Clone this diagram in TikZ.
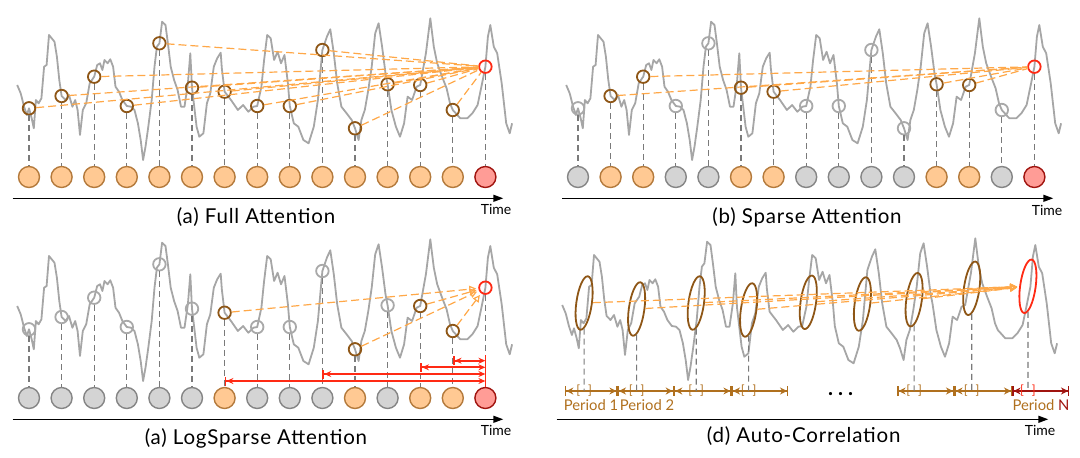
\documentclass[tikz,border=0pt]{standalone}
\usepackage{fontspec}
\setmainfont{Lato}
\usetikzlibrary{arrows.meta, positioning, shapes.geometric}

\definecolor{seriesgray}{HTML}{A6A6A6}
\definecolor{guidegray}{HTML}{7A7A7A}
\definecolor{keyofill}{HTML}{FFC993}
\definecolor{keyoedge}{HTML}{B47A3C}
\definecolor{keygfill}{HTML}{D4D4D4}
\definecolor{keygedge}{HTML}{858585}
\definecolor{keyrfill}{HTML}{FF9C96}
\definecolor{keyredge}{HTML}{A0140F}
\definecolor{ringo}{HTML}{8E5616}
\definecolor{ringg}{HTML}{A9A9A9}
\definecolor{ringr}{HTML}{FF2A14}
\definecolor{attorange}{HTML}{FFA848}
\definecolor{periodbrown}{HTML}{B0701E}
\definecolor{darkred}{HTML}{A0140F}

\newcommand{\timeseries}{%
  \draw[series] plot coordinates {
    (17.2,85) (20.7,93.3) (24.1,106.7) (26.9,115) (29,108.3) (31.7,118.3) (33.8,128.3)
    (35.9,100) (38.6,103.3) (41.4,98.3) (44.1,66.7) (46.6,65) (49,35) (51.7,38.3)
    (54.5,41.7) (56.9,56.7) (59.3,80) (61.6,96) (65.5,100) (69,95) (72.4,106.7)
    (75.2,100) (77.6,110) (80,135) (82.8,110) (86.2,103.3) (89.7,83.3) (94.2,76.7)
    (97.2,65) (100,63.3) (102.4,70) (104.5,60) (107.6,63.3) (110.3,59.3) (113.1,66.7)
    (115.5,86.7) (119,91.7) (122.4,100) (126.8,106) (131,106.7) (134.5,110)
    (137.9,123.3) (140.7,140) (143.1,160) (145.5,146.7) (148.3,126.7) (151.7,100)
    (154.5,66.7) (156.9,46.7) (159.4,43.3) (162.1,21.7) (165.5,25) (167.9,43.3)
    (170.7,66.7) (174.1,80) (177.6,90) (181,106.7) (184.5,106.7) (187.9,83.3)
    (190.3,53.3) (192,87.7) (196.6,126.7) (199.3,136.7) (203.4,133.3) (206.9,103.3)
    (210.3,93.3) (213.8,66.7) (217.2,58.3) (220.7,52.7) (221.8,68) (224.6,91.7)
    (231,100) (237.9,110) (243.1,105) (248.3,111.7) (253.4,106.7) (257.2,106)
    (261.4,86.7) (264.1,60) (267.2,35) (270.7,38.3) (274.1,60) (277.6,51.7) (281,63.3)
    (284.5,55) (287.9,83.3) (289.8,106) (293.8,123.3) (298.3,126.7) (303.4,140)
    (308.6,143.3) (313.8,126.7) (317.9,100) (320.4,72) (322.4,50) (326.9,36.7)
    (330.3,29.3) (333.8,53.3) (337.2,83.3) (341.4,106.7) (346.6,113.3) (351.7,120)
    (355,128.3) (358.6,140) (361.4,120) (364.8,110) (368.3,90) (371.7,66.7)
    (375.2,33.3) (378.6,23.3) (382.1,46.7) (385.5,73.3) (387.6,84.3) (391.4,110)
    (395.9,126.7) (400,136.7) (404.1,123.3) (407.6,96.7) (412.1,100) (416.6,86.7)
    (420.2,85) (425.9,53.3) (430.3,18.3) (433.8,46.7) (437.2,63.3) (442.1,76.7)
    (446.6,88.3) (450,103.3) (452.8,110) (460.3,118.3) (467.2,118.3) (472.4,113.3)
    (477.6,105) (482.1,83.3) (485.4,66.7) (487.9,36.7) (490.3,25) (493.8,46.7)
    (497.2,53.3) (501.7,83.3) (506.2,123.3) (509.7,133.3) (512.1,123.3)};}

\begin{document}
\begin{tikzpicture}[
    x=1pt, y=-1pt,
    series/.style = {seriesgray, line width=1.8pt, line join=round},
    guide/.style = {guidegray, line width=1.2pt, dash pattern=on 6pt off 4pt},
    key/.style = {circle, draw=key#1edge, fill=key#1fill, line width=1.4pt,
                  minimum size=21pt, inner sep=0pt},
    ring/.style = {circle, draw=ring#1, line width=1.8pt, minimum size=12.5pt, inner sep=0pt},
    lag/.style = {ellipse, draw=ring#1, line width=1.8pt, minimum width=15.5pt,
                  minimum height=54pt, inner sep=0pt, rotate=-8},
    att/.style = {attorange, line width=1.2pt, dash pattern=on 8pt off 4pt},
    attarr/.style = {att, -{Triangle[open, length=7pt, width=7pt]}, shorten >=2pt},
    logspan/.style = {ringr, line width=1.8pt,
                      {Bar[width=9pt]Stealth[length=7pt,width=6pt]}-{Stealth[length=7pt,width=6pt]}},
    period/.style = {periodbrown, line width=1.3pt,
                     {Bar[width=10pt]Stealth[length=7pt,width=7pt]}-{Stealth[length=7pt,width=7pt]Bar[width=10pt]}},
    brk/.style = {text=periodbrown, inner sep=0pt, font=\fontsize{12.5}{14}\selectfont},
    plabel/.style = {anchor=base, text=periodbrown, font=\fontsize{14.8}{17}\selectfont},
    axis/.style = {black, line width=1.4pt, -{Triangle[length=10pt,width=7pt]}},
    caption/.style = {anchor=base, font=\fontsize{20.5}{24}\selectfont\addfontfeatures{LetterSpace=4}},
    timelbl/.style = {anchor=base, font=\fontsize{14}{16}\selectfont}
  ]
  \useasboundingbox (0,0) rectangle (1080,458);

  % (a) full attention
  \begin{scope}
    \timeseries
    \foreach \y/\kind [count=\i] in {108.3/o,96/o,76.7/o,106/o,43.3/o,87.7/o,91.7/o,106/o,
                                     106/o,50/o,128.3/o,84.3/o,85/o,110/o,66.7/r} {
      \node[key=\kind] (ak\i) at ({29+32.6*(\i-1)},177) {};
      \node[ring=\kind] (aq\i) at ({29+32.6*(\i-1)},\y) {};
      \draw[guide] (aq\i) -- (ak\i);
    }
    \foreach \i in {1,...,14}
      \draw[att] (aq\i) -- (aq15);
    \coordinate (a0) at (12.7,198.3);
    \coordinate (a1) at (503.3,198.3);
    \draw[axis] (a0) -- (a1);
    \node[timelbl] (atime) at (496,214.5) {Time};
    \node[caption] (acap) at (256,223) {(a) Full Attention};
  \end{scope}

  % (b) sparse attention
  \begin{scope}[shift={(549,0)}]
    \timeseries
    \foreach \y/\kind [count=\i] in {108.3/g,96/o,76.7/o,106/g,43.3/g,87.7/o,91.7/o,106/g,
                                     106/g,50/g,128.3/g,84.3/o,85/o,110/g,66.7/r} {
      \node[key=\kind] (bk\i) at ({29+32.6*(\i-1)},177) {};
      \node[ring=\kind] (bq\i) at ({29+32.6*(\i-1)},\y) {};
      \draw[guide] (bq\i) -- (bk\i);
    }
    \foreach \i in {2,3,6,7,12,13}
      \draw[att] (bq\i) -- (bq15);
    \coordinate (b0) at (13.3,198.3);
    \coordinate (b1) at (504.3,198.3);
    \draw[axis] (b0) -- (b1);
    \node[timelbl] (btime) at (498,215) {Time};
    \node[caption] (bcap) at (258,223) {(b) Sparse Attention};
  \end{scope}

  % (c) logsparse attention
  \begin{scope}[shift={(0,221)}]
    \timeseries
    \foreach \y/\kind [count=\i] in {108.3/g,96/g,76.7/g,106/g,43.3/g,87.7/g,91.7/o,106/g,
                                     106/g,50/g,128.3/o,84.3/g,85/o,110/o,66.7/r} {
      \node[key=\kind] (ck\i) at ({29+32.6*(\i-1)},177) {};
      \node[ring=\kind] (cq\i) at ({29+32.6*(\i-1)},\y) {};
      \draw[guide] (cq\i) -- (ck\i);
    }
    \foreach \i in {7,11,13,14}
      \draw[attarr] (cq\i) -- (cq15);
    \coordinate (ctop) at (ck15 |- 0,134);
    \draw[ringr, line width=1.8pt] (ctop) -- (ck15);
    \foreach \k/\y in {14/139.7, 13/146.3, 10/153, 7/160} {
      \coordinate (cl\k) at (ck\k |- 0,\y);
      \coordinate (cr\k) at (ck15 |- 0,\y);
      \draw[logspan] (cl\k) -- (cr\k);
    }
    \coordinate (c0) at (12.7,198.3);
    \coordinate (c1) at (503.3,198.3);
    \draw[axis] (c0) -- (c1);
    \node[timelbl] (ctime) at (496,214.5) {Time};
    \node[caption] (ccap) at (256,223) {(a) LogSparse Attention};
  \end{scope}

  % (d) auto-correlation
  \begin{scope}[shift={(545,220)}]
    \timeseries
    \foreach \x/\y/\kind [count=\i] in {39.1/83/o, 91.6/89/o, 151.2/83/o, 203.6/90/o,
                                        263.3/82.3/o, 317.4/84/o, 369.1/79.7/o,
                                        426.7/68.3/o, 482.9/66.3/r}
      \node[lag=\kind] (e\i) at (\x,\y) {};
    \foreach \i in {1,...,8}
      \draw[attarr] (e\i) -- (e9);
    \foreach \x [count=\i] in {20,72.7,129,186.7,243.3,352.3,409.3,467.3,524.3}
      \coordinate (t\i) at (\x,171);
    \draw[period] (t1) -- (t2);
    \draw[period] (t2) -- (t3);
    \draw[period] (t3) -- (t4);
    \draw[period] (t4) -- (t5);
    \draw[period] (t6) -- (t7);
    \draw[period] (t7) -- (t8);
    \draw[period, darkred] (t8) -- (t9);
    \foreach \i in {1,2,3,4,7,8,9} {
      \coordinate (g\i) at (e\i |- t1);
      \draw[guide] (e\i) -- (g\i);
    }
    \foreach \i in {1,2,3,4,7,8}
      \node[brk] (br\i) at (g\i) {[\hspace{8pt}]};
    \node[brk, text=ringr] (br9) at (g9) {[\hspace{8pt}]};
    \node[plabel] (p1) at (46,190) {Period 1};
    \node[plabel] (p2) at (102,190) {Period 2};
    \node[plabel] (pN) at (496,190) {Period \textcolor{darkred}{N}};
    \node[anchor=base, font=\fontsize{21}{22}\selectfont\bfseries]
      (dots) at (295.7,175) {.\hspace{5pt}.\hspace{5pt}.};
    \coordinate (d0) at (11.7,199.3);
    \coordinate (d1) at (503.3,199.3);
    \draw[axis] (d0) -- (d1);
    \node[timelbl] (dtime) at (495,215.7) {Time};
    \node[caption] (dcap) at (258.7,222.7) {(d) Auto-Correlation};
  \end{scope}
\end{tikzpicture}
\end{document}
